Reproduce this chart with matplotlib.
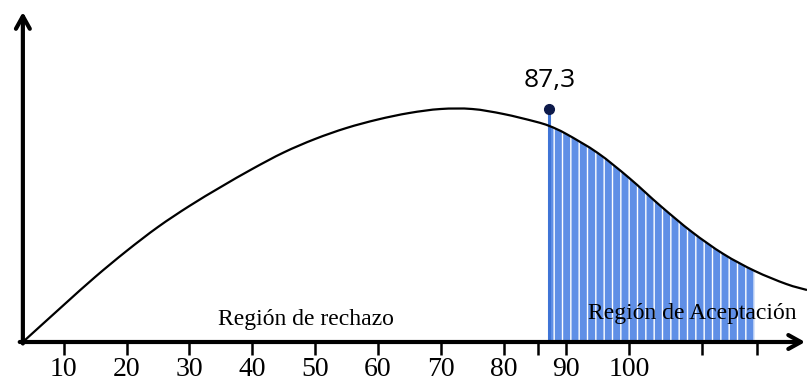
import numpy as np
import matplotlib.pyplot as plt
from matplotlib.path import Path
from matplotlib.patches import PathPatch

# curve (height above the x axis, arbitrary units)
curve_x = [3.5, 10, 15, 20, 25, 30, 35, 40, 45, 50, 55, 60, 65, 70, 75, 80, 85,
           87.3, 90, 95, 100, 105, 110, 115, 120, 125, 128.3]
curve_y = [0, 37, 65, 91, 115, 136, 155, 173, 189.5, 203, 214, 222.5, 229, 233, 233,
           228, 220.5, 216, 208, 189, 164, 136, 110, 88, 71, 58, 52]

critical = 87.3
critical_label = "87,3"
region_end = 120
marker_height = 233

tick_values = [10, 20, 30, 40, 50, 60, 70, 80, 90, 100]
extra_ticks = [85.5, 111.6, 120.3]

label_reject = "Región de rechazo"
label_accept = "Región de Aceptación"


def smooth(xs, ys):
    # Catmull-Rom through the read points, drawn as cubic Bezier segments
    pts = np.column_stack([xs, ys]).astype(float)
    verts = [pts[0]]
    codes = [Path.MOVETO]
    n = len(pts)
    for i in range(n - 1):
        p0 = pts[i - 1] if i > 0 else pts[i]
        p1, p2 = pts[i], pts[i + 1]
        p3 = pts[i + 2] if i + 2 < n else pts[i + 1]
        verts += [p1 + (p2 - p0) / 6, p2 - (p3 - p1) / 6, p2]
        codes += [Path.CURVE4] * 3
    return verts, codes


if __name__ == "__main__":
    fig = plt.figure(figsize=(8.07, 3.87), dpi=100)
    ax = fig.add_axes([0, 0, 1, 1])
    ax.set_xlim(-0.14, 128.3)
    ax.set_ylim(-45, 342)

    cx = np.array(curve_x)
    cy = np.array(curve_y)

    # acceptance region, striped
    plt.rcParams['hatch.linewidth'] = 1.0
    mask = (cx >= critical) & (cx <= region_end)
    v, c = smooth(cx[mask], cy[mask])
    v += [(region_end, 0), (critical, 0), (critical, cy[mask][0])]
    c += [Path.LINETO, Path.LINETO, Path.CLOSEPOLY]
    ax.add_patch(PathPatch(Path(v, c), facecolor="#5f8fe6", edgecolor="white",
                           hatch="||", linewidth=0, zorder=1))

    v, c = smooth(cx, cy)
    ax.add_patch(PathPatch(Path(v, c), facecolor="none", edgecolor="black",
                           lw=1.6, zorder=3))

    # critical value marker
    ax.vlines(critical, 0, marker_height, color="#3f74d6", lw=2.2, zorder=2)
    ax.plot([critical], [marker_height], "o", color="#0d1a4a", ms=7, zorder=4)
    ax.text(critical, marker_height + 16, critical_label, ha="center", va="bottom",
            fontsize=19, family="Open Sans")

    # axes with arrows
    arrow = dict(arrowstyle="->,head_length=0.9,head_width=0.5", lw=3, color="black",
                 shrinkA=0, shrinkB=0)
    ax.annotate("", xy=(128.0, 0), xytext=(3.0, 0), arrowprops=arrow, zorder=5)
    ax.annotate("", xy=(3.5, 330), xytext=(3.5, -1.5), arrowprops=arrow, zorder=5)

    for s in ax.spines.values():
        s.set_visible(False)
    ax.spines["bottom"].set_position(("data", 0))
    ax.set_yticks([])
    ax.set_xticks(tick_values)
    ax.set_xticks(extra_ticks, minor=True)
    ax.set_xticklabels([str(v) for v in tick_values], family="Liberation Serif",
                       fontsize=20)
    ax.tick_params(axis="x", which="both", direction="out", length=9, width=1.8,
                   pad=2)

    ax.text(48.5, 22, label_reject, ha="center", va="center", fontsize=17,
            family="Liberation Serif")
    ax.text(110.0, 28, label_accept, ha="center", va="center", fontsize=17,
            family="Liberation Serif")

    fig.savefig("out.png", dpi=100)
